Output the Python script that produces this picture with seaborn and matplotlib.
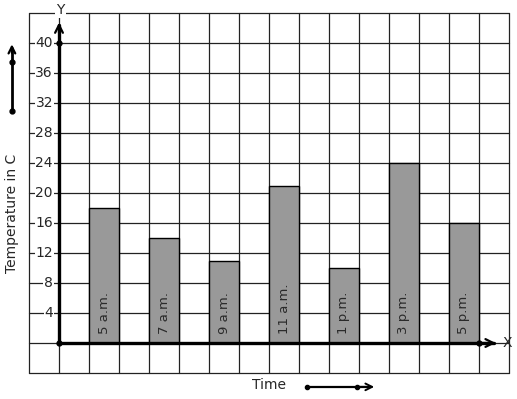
import matplotlib
matplotlib.use("Agg")
import matplotlib.pyplot as plt
import seaborn as sns
import pandas as pd
import numpy as np

# data
times = ["5 a.m.", "7 a.m.", "9 a.m.", "11 a.m.", "1 p.m.", "3 p.m.", "5 p.m."]
temps = [18, 14, 11, 21, 10, 24, 16]
y_ticks = [4, 8, 12, 16, 20, 24, 28, 32, 36, 40]

sns.set_theme(style="white")
plt.rcParams['font.family'] = ['DejaVu Sans']

fig = plt.figure(figsize=(5.17, 3.99), dpi=100)
ax = fig.add_axes([0, 0, 1, 1])

# one grid cell = 1 unit across, 4 degrees up
XLIM = (-59 / 30, (517 - 59) / 30)
YLIM = (-56 / 7.5, 343 / 7.5)

# grid
gx0, gx1, gy0, gy1 = -1, 15, -4, 44
for gx in range(gx0, gx1 + 1):
    ax.plot([gx, gx], [gy0, gy1], color='#222222', lw=0.9, zorder=1)
for gy in range(gy0, gy1 + 1, 4):
    ax.plot([gx0, gx1], [gy, gy], color='#222222', lw=0.9, zorder=1)

# bars
df = pd.DataFrame({
    'pos': 1.5 + 2 * np.arange(len(times)),
    'temp': temps,
    'time': times,
})
sns.barplot(data=df, x='pos', y='temp', native_scale=True, width=0.5,
            color='#999999', saturation=1, edgecolor='black', linewidth=1,
            ax=ax, zorder=2)
ax.set_xlim(*XLIM)
ax.set_ylim(*YLIM)
ax.axis('off')

for p, t in zip(df['pos'], df['time']):
    ax.text(p, 1.2, t, rotation=90, ha='center', va='bottom',
            fontsize=9.5, color='#2a2a2a', zorder=4)

# axes with arrows
ax.plot([0, 0], [0, 42.4], color='black', lw=2.4, zorder=3)
ax.annotate('', xy=(0, 43.1), xytext=(0, 41.0),
            arrowprops=dict(arrowstyle='->', lw=1.6, color='black',
                            mutation_scale=14), zorder=3)
ax.plot([0, 14.5], [0, 0], color='black', lw=2.4, zorder=3)
ax.annotate('', xy=(14.65, 0), xytext=(13.9, 0),
            arrowprops=dict(arrowstyle='->', lw=1.6, color='black',
                            mutation_scale=14), zorder=3)
ax.plot([0, 0, 14], [0, 40, 0], 'o', color='black', ms=3.5, zorder=4)

ax.text(0.05, 44.4, 'Y', ha='center', va='center', fontsize=10,
        bbox=dict(facecolor='white', edgecolor='none', pad=1), zorder=4)
ax.text(14.95, 0, 'X', ha='center', va='center', fontsize=10, zorder=4)

for v in y_ticks:
    ax.text(-0.2, v, str(v), ha='right', va='center', fontsize=10,
            bbox=dict(facecolor='white', edgecolor='none', pad=0.5), zorder=4)

# axis titles with decorative arrows
ax.text(-1.55, 17.3, 'Temperature in C', rotation=90, ha='center',
        va='center', fontsize=10)
ax.plot([-1.57, -1.57], [31.2, 39.3], color='black', lw=2, zorder=3)
ax.annotate('', xy=(-1.57, 40.2), xytext=(-1.57, 38.3),
            arrowprops=dict(arrowstyle='->', lw=1.6, color='black',
                            mutation_scale=12), zorder=3)
ax.plot([-1.57, -1.57], [31.0, 37.5], 'o', color='black', ms=3.5, zorder=4)

ax.text(7.0, -5.6, 'Time', ha='center', va='center', fontsize=10)
ax.plot([8.27, 10.3], [-5.85, -5.85], color='black', lw=1.6, zorder=3)
ax.annotate('', xy=(10.6, -5.85), xytext=(9.9, -5.85),
            arrowprops=dict(arrowstyle='->', lw=1.4, color='black',
                            mutation_scale=12), zorder=3)
ax.plot([8.27, 9.93], [-5.85, -5.85], 'o', color='black', ms=3, zorder=4)

fig.savefig('out.png', dpi=100)
